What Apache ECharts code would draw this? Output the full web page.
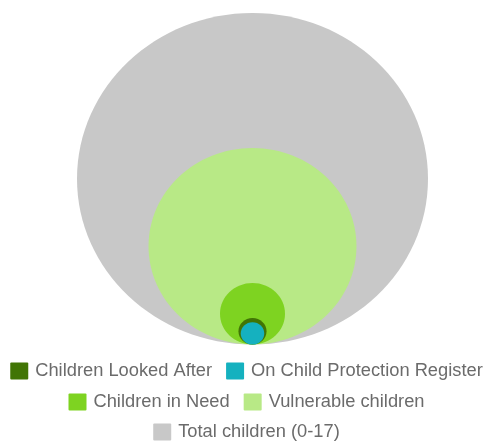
<!DOCTYPE html>
<html>
<head>
<meta charset="utf-8">
<script src="https://cdn.jsdelivr.net/npm/echarts@6/dist/echarts.min.js"></script>
<style>html,body{margin:0;padding:0;background:#fff}#c{width:493px;height:441px}</style>
</head>
<body>
<div id="c"></div>
<script>
// Data (estimated; circle area proportional to value)
var seriesNames = ["Total children (0-17)", "Vulnerable children", "Children in Need", "Children Looked After", "On Child Protection Register"];
var seriesValues = [1000000, 351000, 34300, 6400, 4500];
var seriesColors = ["#c8c8c8", "#b8e986", "#7ed321", "#417505", "#15b1bf"];
var legendRow1 = ["Children Looked After", "On Child Protection Register"];
var legendRow2 = ["Children in Need", "Vulnerable children"];
var legendRow3 = ["Total children (0-17)"];

var R = Math.sqrt(seriesValues[0]);

var series = seriesNames.map(function (name, i) {
  var r = Math.sqrt(seriesValues[i]);
  return {
    type: 'custom',
    name: name,
    coordinateSystem: 'cartesian2d',
    itemStyle: { color: seriesColors[i] },
    silent: true,
    z: 2 + i,
    data: [[0, r, r]],
    renderItem: function (params, api) {
      var rr = api.value(2);
      var c = api.coord([api.value(0), api.value(1)]);
      var sz = api.size([rr, rr]);
      return {
        type: 'ellipse',
        shape: { cx: c[0], cy: c[1], rx: sz[0], ry: sz[1] },
        style: { fill: seriesColors[i] }
      };
    }
  };
});

function legend(data, top) {
  return {
    data: data,
    top: top,
    left: 'center',
    padding: 0,
    itemWidth: 18,
    itemHeight: 17,
    itemGap: 14,
    icon: 'path://M1,0 L17,0 Q18,0 18,1 L18,16 Q18,17 17,17 L1,17 Q0,17 0,16 L0,1 Q0,0 1,0 Z',
    selectedMode: false,
    textStyle: { color: '#6b6b6b', fontSize: 18.3, fontFamily: 'Liberation Sans, Arial, sans-serif', padding: [0, 0, 0, 2] }
  };
}

var chart = echarts.init(document.getElementById('c'), null, { renderer: 'canvas' });
chart.setOption({
  animation: false,
  grid: { left: 77, top: 13, width: 351, height: 331.5 },
  xAxis: { type: 'value', min: -R, max: R, show: false },
  yAxis: { type: 'value', min: 0, max: 2 * R, show: false },
  legend: [legend(legendRow1, 362), legend(legendRow2, 393), legend(legendRow3, 423)],
  series: series
});
</script>
</body>
</html>
